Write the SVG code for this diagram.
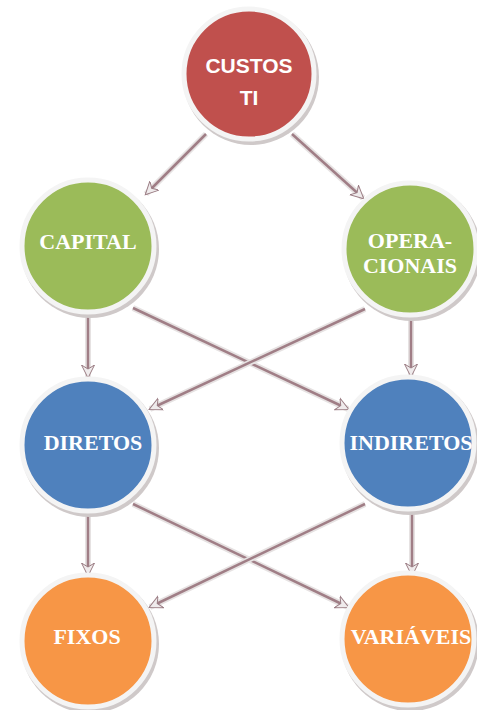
<svg xmlns="http://www.w3.org/2000/svg" width="477" height="710" viewBox="0 0 477 710">
<defs>
<style>
.sh{fill:#cfc9c9;}
.ring{stroke:#f4f4f4;stroke-width:5;}
.red{fill:#c0504d;}
.green{fill:#9bbb59;}
.blue{fill:#4f81bd;}
.orange{fill:#f79646;}
.t{font-family:"Liberation Serif",serif;font-weight:bold;font-size:22px;fill:#ffffff;text-anchor:middle;}
.ts{font-family:"Liberation Sans",Arial,sans-serif;font-weight:bold;font-size:21px;fill:#ffffff;text-anchor:middle;}
.ln{stroke:#a07e86;stroke-width:2.5;fill:none;marker-end:url(#ah);}
.lh{stroke:#e6e2e2;stroke-width:6;fill:none;}
</style>
<marker id="ah" markerWidth="16" markerHeight="16" refX="12" refY="8" orient="auto" markerUnits="userSpaceOnUse">
<path d="M0,1.5 L13,8 L0,14.5 L4,8 Z" fill="#efebec" stroke="#9a7c83" stroke-width="1"/>
</marker>
</defs>
<g id="connectors">
<line class="lh" x1="206" y1="134" x2="146" y2="194"/>
<line class="ln" x1="206" y1="134" x2="146" y2="194"/>
<line class="lh" x1="292" y1="134" x2="363" y2="198"/>
<line class="ln" x1="292" y1="134" x2="363" y2="198"/>
<line class="lh" x1="88" y1="313" x2="88" y2="377"/>
<line class="ln" x1="88" y1="313" x2="88" y2="377"/>
<line class="lh" x1="133" y1="308" x2="348" y2="409"/>
<line class="ln" x1="133" y1="308" x2="348" y2="409"/>
<line class="lh" x1="365" y1="309" x2="150" y2="409"/>
<line class="ln" x1="365" y1="309" x2="150" y2="409"/>
<line class="lh" x1="411" y1="317" x2="411" y2="376"/>
<line class="ln" x1="411" y1="317" x2="411" y2="376"/>
<line class="lh" x1="88" y1="511" x2="88" y2="575"/>
<line class="ln" x1="88" y1="511" x2="88" y2="575"/>
<line class="lh" x1="133" y1="504" x2="348" y2="607"/>
<line class="ln" x1="133" y1="504" x2="348" y2="607"/>
<line class="lh" x1="365" y1="504" x2="150" y2="607"/>
<line class="ln" x1="365" y1="504" x2="150" y2="607"/>
<line class="lh" x1="412" y1="510" x2="412" y2="575"/>
<line class="ln" x1="412" y1="510" x2="412" y2="575"/>
</g>
<g id="custos">
<circle class="sh" cx="251" cy="77" r="68"/>
<circle class="red ring" cx="249" cy="74" r="65"/>
<text class="ts" x="249" y="73">CUSTOS</text>
<text class="ts" x="249" y="105">TI</text>
</g>
<g id="capital">
<circle class="sh" cx="90" cy="249" r="69"/>
<circle class="green ring" cx="88" cy="246" r="66"/>
<text class="t" x="88" y="249">CAPITAL</text>
</g>
<g id="operacionais">
<circle class="sh" cx="412" cy="252" r="69"/>
<circle class="green ring" cx="410" cy="249" r="66"/>
<text class="t" x="410" y="248">OPERA-</text>
<text class="t" x="410" y="273">CIONAIS</text>
</g>
<g id="diretos">
<circle class="sh" cx="90" cy="448" r="69"/>
<circle class="blue ring" cx="88" cy="445" r="66"/>
<text class="t" x="93" y="450">DIRETOS</text>
</g>
<g id="indiretos">
<circle class="sh" cx="410" cy="446" r="69"/>
<circle class="blue ring" cx="408" cy="443" r="66"/>
<text class="t" x="411" y="450">INDIRETOS</text>
</g>
<g id="fixos">
<circle class="sh" cx="90" cy="644" r="69"/>
<circle class="orange ring" cx="88" cy="641" r="66"/>
<text class="t" x="87" y="644">FIXOS</text>
</g>
<g id="variaveis">
<circle class="sh" cx="410" cy="642" r="69"/>
<circle class="orange ring" cx="408" cy="639" r="66"/>
<text class="t" x="411" y="644">VARIÁVEIS</text>
</g>
</svg>
